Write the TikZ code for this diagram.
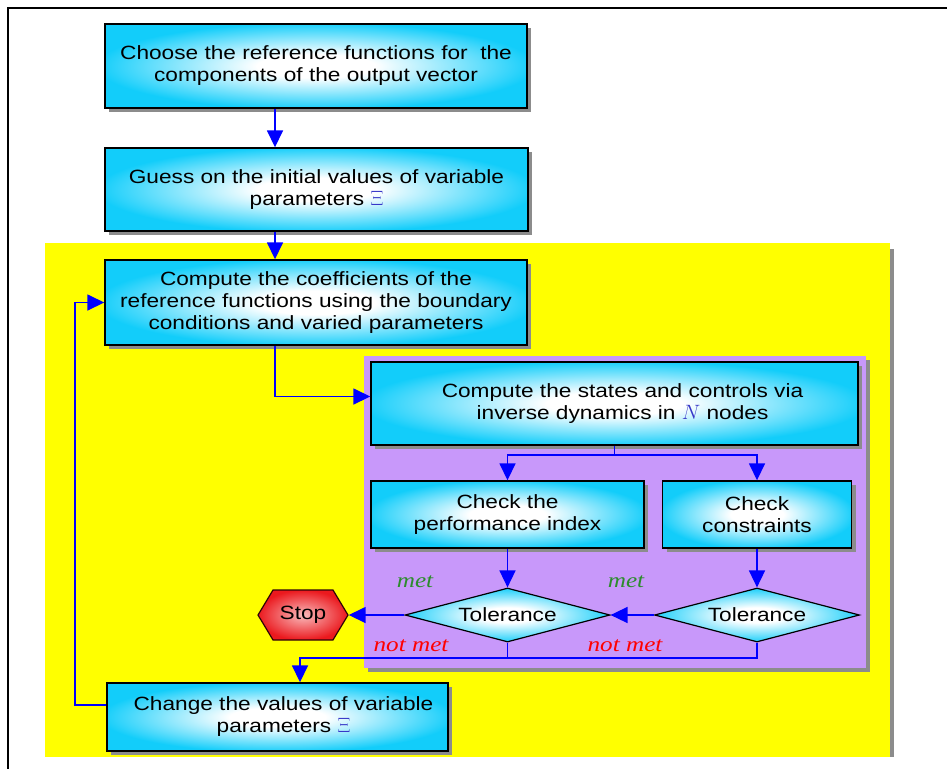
\documentclass[tikz,border=0pt]{standalone}
\usepackage{fontspec}
\setmainfont[FakeStretch=1.18]{Liberation Sans}
\newfontfamily\labelfont[FakeStretch=1.2]{Liberation Serif}
\usepackage{xcolor}
\usetikzlibrary{shapes.geometric}
\usetikzlibrary{shapes.symbols}
\usetikzlibrary{shadows}
\usetikzlibrary{arrows.meta}
\usetikzlibrary{calc}

\definecolor{boxcyan}{RGB}{18,205,250}
\definecolor{stopred}{RGB}{235,25,30}
\definecolor{zoneyellow}{RGB}{255,255,0}
\definecolor{zonepurple}{RGB}{200,152,250}
\definecolor{flowblue}{RGB}{0,0,255}
\definecolor{symblue}{RGB}{55,55,200}
\definecolor{metgreen}{RGB}{45,140,45}
\definecolor{notmetred}{RGB}{255,0,0}

\pgfdeclareradialshading{boxshade}{\pgfpoint{0bp}{0bp}}{color(0bp)=(white); color(7bp)=(white); color(26bp)=(boxcyan); color(50bp)=(boxcyan)}
\pgfdeclareradialshading{stopshade}{\pgfpoint{0bp}{0bp}}{color(0bp)=(white!70!stopred); color(25bp)=(stopred); color(50bp)=(stopred)}

\begin{document}
\begin{tikzpicture}[x=1pt, y=-1pt]
        % ================= 样式定义 =================
        \tikzset{
            % 方框:青色渐变,黑边,灰色阴影
            stepbox/.style={rectangle, draw=black, line width=1.4pt, shade, shading=boxshade, align=center, inner sep=2pt,
                font=\fontsize{19.2}{22}\selectfont,
                drop shadow={shadow xshift=4pt, shadow yshift=-4pt, fill=black!45, opacity=1}},
            % 判断框:菱形
            tolnode/.style={diamond, draw=black, line width=1.2pt, shade, shading=boxshade, aspect=3.8,
                minimum width=205pt, minimum height=54pt, inner sep=0pt, font=\fontsize{19.2}{22}\selectfont},
            % 终止框:六边形
            stopnode/.style={signal, signal to=east and west, signal pointer angle=118, draw=black!80!stopred, line width=1.2pt,
                shade, shading=stopshade, minimum width=90pt, minimum height=50pt, inner sep=2pt, font=\fontsize{19.2}{22}\selectfont},
            % 背景区域
            zone/.style={rectangle, inner sep=0pt, anchor=north west},
            % 连线
            flow/.style={draw=flowblue, line width=1.6pt, -{Triangle[width=16pt,length=17pt]}},
            link/.style={draw=flowblue, line width=1.6pt},
            metlabel/.style={font=\labelfont\itshape\fontsize{21}{21}\selectfont, text=metgreen},
            notmetlabel/.style={font=\labelfont\itshape\fontsize{21}{21}\selectfont, text=notmetred},
            sym/.style={text=symblue}
        }

        \useasboundingbox (0,0) rectangle (947,769);

        % ================= 外框 =================
        \draw[line width=1.5pt] (947,8) -- (8,8) -- (8,769);

        % ================= 背景区域 =================
        \node[zone, fill=zoneyellow, minimum width=845pt, minimum height=514pt] (loopzone) at (45,243) {};
        \fill[black!45] ($(loopzone.north east)+(0,6)$) rectangle ($(loopzone.south east)+(4,0)$);
        \node[zone, fill=zonepurple, minimum width=502pt, minimum height=312pt,
            drop shadow={shadow xshift=4pt, shadow yshift=-4pt, fill=black!45, opacity=1}] (checkzone) at (364,356) {};

        % ================= 方框 =================
        \node[stepbox, minimum width=422pt, minimum height=84pt] (choose) at (316,66)
            {Choose the reference functions for \ the\\components of the output vector};
        \node[stepbox, minimum width=423pt, minimum height=83pt] (guess) at (316.5,189.5)
            {Guess on the initial values of variable\\parameters {\color{symblue}$\Xi$}};
        \node[stepbox, minimum width=422pt, minimum height=85pt] (coeff) at (316,302.5)
            {Compute the coefficients of the\\reference functions using the boundary\\conditions and varied parameters};
        \node[stepbox, minimum width=487pt, minimum height=83pt] (states) at (614.5,403.5)
            {\hspace*{16pt}Compute the states and controls via\\\hspace*{16pt}inverse dynamics in {\color{symblue}$N$} nodes};
        \node[stepbox, minimum width=273pt, minimum height=67pt] (perf) at (507.5,514.5)
            {Check the\\performance index};
        \node[stepbox, minimum width=189pt, minimum height=67pt] (constr) at (757,514.5)
            {Check\\constraints};
        \node[stepbox, minimum width=341pt, minimum height=68pt] (change) at (277.5,717)
            {\hspace*{12pt}Change the values of variable\\\hspace*{12pt}parameters {\color{symblue}$\Xi$}};

        % ================= 判断与终止 =================
        \node[tolnode] (tol1) at (507.5,615) {Tolerance};
        \node[tolnode] (tol2) at (757,615) {Tolerance};
        \node[stopnode] (stop) at (303,615) {Stop};

        % ================= 标签 =================
        \node[metlabel] (met1) at (415,582) {met};
        \node[metlabel] (met2) at (626,582) {met};
        \node[notmetlabel] (notmet1) at (411,646) {not met};
        \node[notmetlabel] (notmet2) at (625,646) {not met};

        % ================= 连线 =================
        \coordinate (spine) at (275,0);
        \coordinate (branch) at (0,455);
        \coordinate (joinpt) at (300,658);
        \coordinate (back) at (75,705);

        \draw[flow] (choose.south -| spine) -- (guess.north -| spine);
        \draw[flow] (guess.south -| spine) -- (coeff.north -| spine);
        \draw[flow] (coeff.south -| spine) |- ([yshift=7pt]states.west);
        \draw[flow] (states.south) -- (states.south |- branch) -| (perf.north);
        \draw[flow] (states.south |- branch) -| (constr.north);
        \draw[flow] (perf.south) -- (tol1.north);
        \draw[flow] (constr.south) -- (tol2.north);
        \draw[flow] (tol2.west) -- (tol1.east);
        \draw[flow] (tol1.west) -- (stop.east);
        \draw[link] (tol1.south) -- (tol1.south |- joinpt);
        \draw[flow] (tol2.south) |- (joinpt) -- (change.north -| joinpt);
        \draw[flow] (change.west |- back) -- (back) |- (coeff.west);

    \end{tikzpicture}
\end{document}
